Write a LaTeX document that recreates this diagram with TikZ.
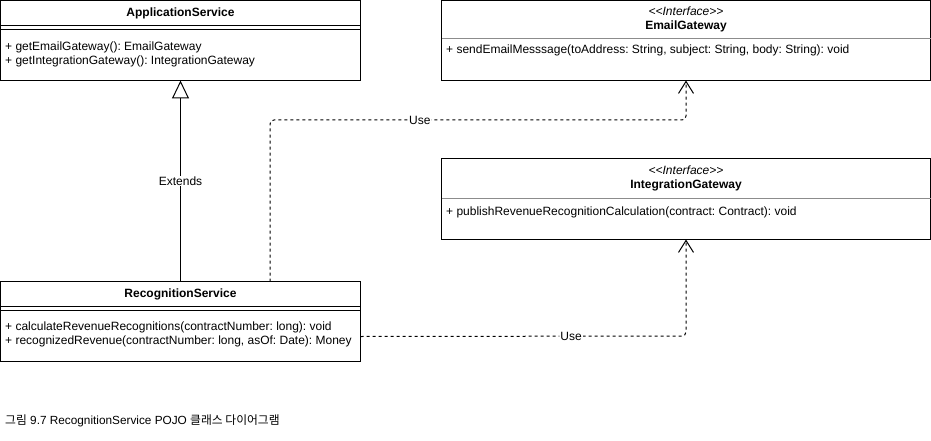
\documentclass[tikz,border=0pt]{standalone}
\usepackage{fontspec}
\setmainfont{Liberation Sans}
\newfontfamily\cjk{Noto Sans CJK KR}
\usepackage{tikz}
\usetikzlibrary{arrows.meta}
\frenchspacing

\tikzset{
	classbox/.style={draw,line width=1pt,minimum width=360pt,minimum height=80pt,anchor=north west,inner sep=0pt,outer sep=0pt},
	ifacebox/.style={classbox,minimum width=489pt},
	classname/.style={font=\fontsize{12}{14}\selectfont\bfseries,inner sep=0pt},
	stereo/.style={font=\fontsize{12}{14}\selectfont\itshape,inner sep=0pt},
	members/.style={anchor=west,align=left,inner sep=0pt},
	sepline/.style={line width=1pt},
	ifaceline/.style={line width=0.8pt,draw=black!45},
	extendsedge/.style={line width=1pt,-{Triangle[open,length=18pt,width=17pt]}},
	useedge/.style={line width=1pt,dash pattern=on 3pt off 3pt,rounded corners=4pt,-{Straight Barb[length=12pt,width=15pt]}},
	edgelabel/.style={fill=white,inner sep=1pt}
}

\begin{document}
\begin{tikzpicture}[x=1pt,y=-1pt,font=\fontsize{12}{14}\selectfont]
			\useasboundingbox (0,0) rectangle (931,441);
			\node[classbox] (appsvc) at (0.5,0.5) {};
			\node[classname] (appsvcname) at (180.5,13) {ApplicationService};
			\draw[sepline] (0.5,26) -- (360.5,26) (0.5,30) -- (360.5,30);
			\node[members] (appsvcops) at (5,54.5) {+ getEmailGateway(): EmailGateway\\+ getIntegrationGateway(): IntegrationGateway};
			\node[ifacebox] (emailgw) at (441.5,0.5) {};
			\node[stereo] (emailgwst) at (686,11) {<\kern0pt<Interface>\kern0pt>};
			\node[classname] (emailgwname) at (686,26) {EmailGateway};
			\draw[ifaceline] (441.5,38.5) -- (930.5,38.5);
			\node[members] (emailgwops) at (446,50.5) {+ sendEmailMesssage(toAddress: String, subject: String, body: String): void};
			\node[ifacebox,minimum height=81pt] (intgw) at (441.5,158.5) {};
			\node[stereo] (intgwst) at (686,170) {<\kern0pt<Interface>\kern0pt>};
			\node[classname] (intgwname) at (686,185) {IntegrationGateway};
			\draw[ifaceline] (441.5,198.5) -- (930.5,198.5);
			\node[members] (intgwops) at (446,212.5) {+ publishRevenueRecognitionCalculation(contract: Contract): void};
			\node[classbox] (recsvc) at (0.5,281.5) {};
			\node[classname] (recsvcname) at (180.5,294) {RecognitionService};
			\draw[sepline] (0.5,306.5) -- (360.5,306.5) (0.5,310.5) -- (360.5,310.5);
			\node[members] (recsvcops) at (5,334.5) {+ calculateRevenueRecognitions(contractNumber: long): void\\+ recognizedRevenue(contractNumber: long, asOf: Date): Money};
			\draw[extendsedge] (recsvc.north) -- node[edgelabel] {Extends} (appsvc.south);
			\draw[useedge] ([xshift=89.5pt]recsvc.north) -- (270,120) -- node[edgelabel,pos=0.36] {Use} (emailgw.south |- 0,120) -- (emailgw.south);
			\draw[useedge] ([yshift=-15pt]recsvc.east) -- node[edgelabel,pos=0.647] {Use} (intgw.south |- 0,336) -- (intgw.south);
			\node[anchor=west,inner sep=0pt,font=\fontsize{11.8}{14}\selectfont] (caption) at (5,421) {{\cjk 그림} 9.7 RecognitionService POJO {\cjk 클래스 다이어그램}};
		\end{tikzpicture}
\end{document}
